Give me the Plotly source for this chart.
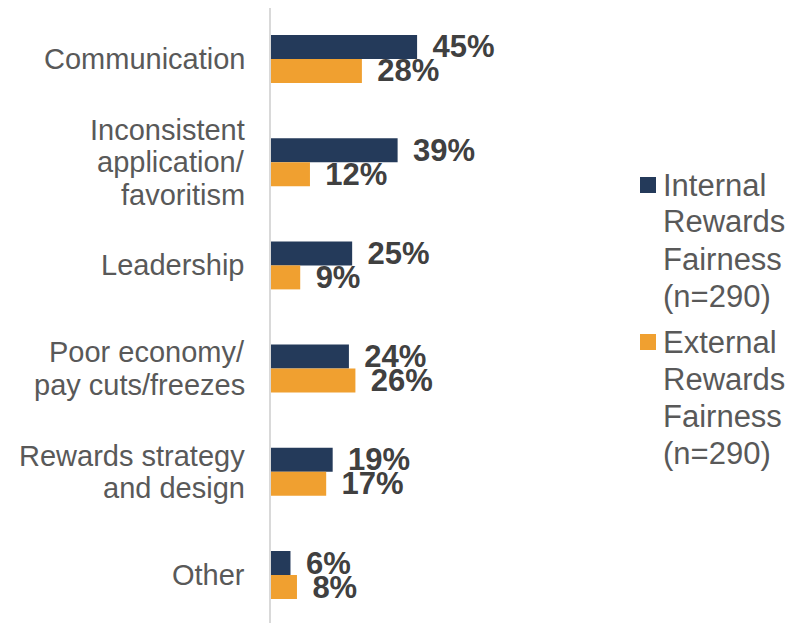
import plotly.graph_objects as go

categories = ["Communication", "Inconsistent\napplication/\nfavoritism", "Leadership",
              "Poor economy/\npay cuts/freezes", "Rewards strategy\nand design", "Other"]
internal_vals = [45, 39, 25, 24, 19, 6]
external_vals = [28, 12, 9, 26, 17, 8]
series_names = ["Internal\nRewards\nFairness\n(n=290)", "External\nRewards\nFairness\n(n=290)"]
colors = ["#243A5A", "#F0A030"]

FONT = "Liberation Sans, Arial, sans-serif"
cat_ids = [c.replace("\n", " ") for c in categories]

# figure geometry (the page body adds an 8px offset)
W, H = 796, 615
ML, MR, MT, MB = 263, 184, 0, 0
PW, PH = W - ML - MR, H - MT - MB

def px_x(px):
    return (px - ML) / PW

def px_y(py):
    return 1 - (py - MT) / PH

fig = go.Figure()
for vals, name, col in [(internal_vals, series_names[0], colors[0]),
                        (external_vals, series_names[1], colors[1])]:
    fig.add_trace(go.Bar(
        y=cat_ids, x=vals, orientation="h", name=name.replace("\n", " "),
        marker=dict(color=col, line=dict(width=0)),
        text=[f"\u2009\u2009{v}%" for v in vals], textposition="outside",
        textfont=dict(family=FONT, size=31, color="#404040", weight="bold"),
        constraintext="none", cliponaxis=False, showlegend=False,
    ))

# category labels, one annotation per line for tighter line spacing
line_h = 32.5
for cid, lab in zip(cat_ids, categories):
    lines = lab.split("\n")
    n = len(lines)
    for i, ln in enumerate(lines):
        fig.add_annotation(
            x=0, xref="paper", y=cid, yref="y", text=ln, showarrow=False,
            xanchor="right", yanchor="middle", xshift=-24,
            yshift=((n - 1) / 2 - i) * line_h,
            font=dict(family=FONT, size=29, color="#595959"),
        )

# legend (drawn manually for Excel-like line spacing)
leg_line_h = 37
leg_tops = [177, 334]
for name, col, top in zip(series_names, colors, leg_tops):
    fig.add_shape(type="rect", xref="paper", yref="paper",
                  x0=px_x(632), x1=px_x(648), y0=px_y(top - 8), y1=px_y(top + 8),
                  fillcolor=col, line=dict(width=0))
    for i, ln in enumerate(name.split("\n")):
        fig.add_annotation(
            x=px_x(653), xref="paper", y=px_y(top + i * leg_line_h), yref="paper",
            text=ln, showarrow=False, xanchor="left", yanchor="middle",
            font=dict(family=FONT, size=31, color="#595959"),
        )

fig.update_layout(
    width=W, height=H,
    margin=dict(l=ML, r=MR, t=MT, b=MB),
    paper_bgcolor="white", plot_bgcolor="white",
    barmode="group", bargap=0.535, bargroupgap=0,
    showlegend=False,
    xaxis=dict(range=[0, 107.5], visible=False, fixedrange=True),
    yaxis=dict(range=[5.465, -0.494], showticklabels=False, showgrid=False,
               showline=True, linecolor="#D9D9D9", linewidth=2, ticks="",
               zeroline=False),
)

fig.write_html("out.html")
